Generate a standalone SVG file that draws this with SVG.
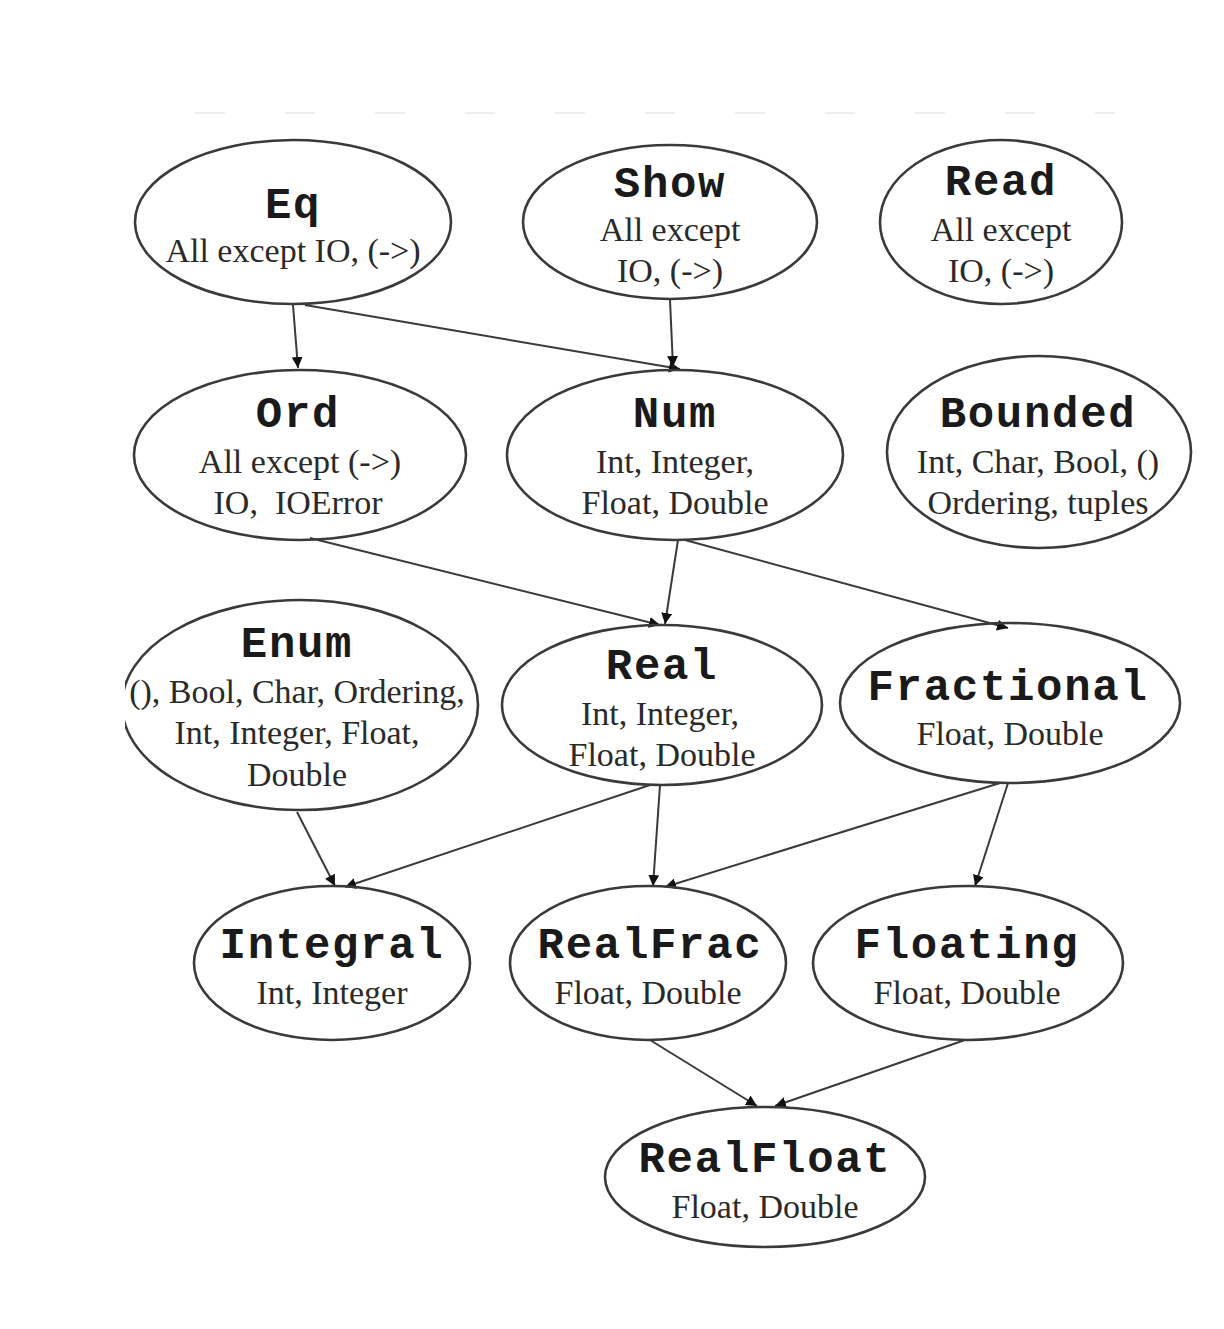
<svg xmlns="http://www.w3.org/2000/svg" width="1224" height="1329" viewBox="0 0 1224 1329">
<style>
.n ellipse{fill:none;stroke:#3a3a3a;stroke-width:2.6}
.t{font-family:"Liberation Mono","Courier New",monospace;font-weight:bold;font-size:44px;letter-spacing:1.7px;fill:#1a1a1a;text-anchor:middle}
.s{font-family:"Liberation Serif","Times New Roman",serif;font-size:34px;fill:#2a2a2a;text-anchor:middle}
.e line{stroke:#3a3a3a;stroke-width:2;marker-end:url(#a)}
</style>
<defs>
<marker id="a" viewBox="0 0 10 10" refX="10" refY="5" markerWidth="5.5" markerHeight="5.5" orient="auto" markerUnits="strokeWidth">
<path d="M0,0 L10,5 L0,10 z" fill="#111"/>
</marker>
<clipPath id="cl"><rect x="125" y="0" width="1100" height="1329"/></clipPath>
</defs>
<rect width="1224" height="1329" fill="#fff"/>
<line x1="195" y1="113" x2="1115" y2="113" stroke="#ddd" stroke-width="1" stroke-dasharray="30 60"/>
<g class="e">
<line x1="293" y1="305" x2="298" y2="368"/>
<line x1="305" y1="305" x2="680" y2="369"/>
<line x1="670" y1="300" x2="673" y2="367"/>
<line x1="310" y1="538" x2="660" y2="625"/>
<line x1="678" y1="540" x2="665" y2="624"/>
<line x1="685" y1="540" x2="1008" y2="628"/>
<line x1="297" y1="812" x2="335" y2="886"/>
<line x1="650" y1="785" x2="345" y2="887"/>
<line x1="660" y1="785" x2="653" y2="886"/>
<line x1="1000" y1="783" x2="665" y2="887"/>
<line x1="1008" y1="783" x2="975" y2="886"/>
<line x1="650" y1="1040" x2="757" y2="1106"/>
<line x1="965" y1="1040" x2="775" y2="1106"/>
</g>
<g id="eq" class="n"><ellipse cx="293" cy="222" rx="158" ry="82"/><text class="t" x="293" y="218">Eq</text><text class="s" x="293" y="262">All except IO, (-&gt;)</text></g>
<g id="show" class="n"><ellipse cx="670" cy="222" rx="147" ry="77"/><text class="t" x="670" y="197">Show</text><text class="s" x="670" y="241">All except</text><text class="s" x="670" y="282">IO, (-&gt;)</text></g>
<g id="read" class="n"><ellipse cx="1001" cy="222" rx="121" ry="82"/><text class="t" x="1001" y="195">Read</text><text class="s" x="1001" y="241">All except</text><text class="s" x="1001" y="282">IO, (-&gt;)</text></g>
<g id="ord" class="n"><ellipse cx="300" cy="455" rx="166" ry="85"/><text class="t" x="298" y="427">Ord</text><text class="s" x="300" y="473">All except (-&gt;)</text><text class="s" x="298" y="514" xml:space="preserve">IO,  IOError</text></g>
<g id="num" class="n"><ellipse cx="675" cy="455" rx="168" ry="85"/><text class="t" x="675" y="427">Num</text><text class="s" x="675" y="473">Int, Integer,</text><text class="s" x="675" y="514">Float, Double</text></g>
<g id="bounded" class="n"><ellipse cx="1039" cy="452" rx="152" ry="96"/><text class="t" x="1038" y="427">Bounded</text><text class="s" x="1038" y="473">Int, Char, Bool, ()</text><text class="s" x="1038" y="514">Ordering, tuples</text></g>
<g id="enum" class="n" clip-path="url(#cl)"><ellipse cx="300" cy="705" rx="178" ry="105"/><text class="t" x="297" y="657">Enum</text><text class="s" x="297" y="703">(), Bool, Char, Ordering,</text><text class="s" x="297" y="744">Int, Integer, Float,</text><text class="s" x="297" y="786">Double</text></g>
<g id="real" class="n"><ellipse cx="662" cy="705" rx="160" ry="80"/><text class="t" x="662" y="679">Real</text><text class="s" x="660" y="725">Int, Integer,</text><text class="s" x="662" y="766">Float, Double</text></g>
<g id="fractional" class="n"><ellipse cx="1010" cy="703" rx="170" ry="80"/><text class="t" x="1008" y="700">Fractional</text><text class="s" x="1010" y="745">Float, Double</text></g>
<g id="integral" class="n"><ellipse cx="332" cy="963" rx="138" ry="77"/><text class="t" x="332" y="958">Integral</text><text class="s" x="332" y="1004">Int, Integer</text></g>
<g id="realfrac" class="n"><ellipse cx="648" cy="963" rx="138" ry="77"/><text class="t" x="650" y="958">RealFrac</text><text class="s" x="648" y="1004">Float, Double</text></g>
<g id="floating" class="n"><ellipse cx="968" cy="963" rx="155" ry="77"/><text class="t" x="967" y="958">Floating</text><text class="s" x="967" y="1004">Float, Double</text></g>
<g id="realfloat" class="n"><ellipse cx="765" cy="1177" rx="160" ry="70"/><text class="t" x="765" y="1172">RealFloat</text><text class="s" x="765" y="1218">Float, Double</text></g>
</svg>
